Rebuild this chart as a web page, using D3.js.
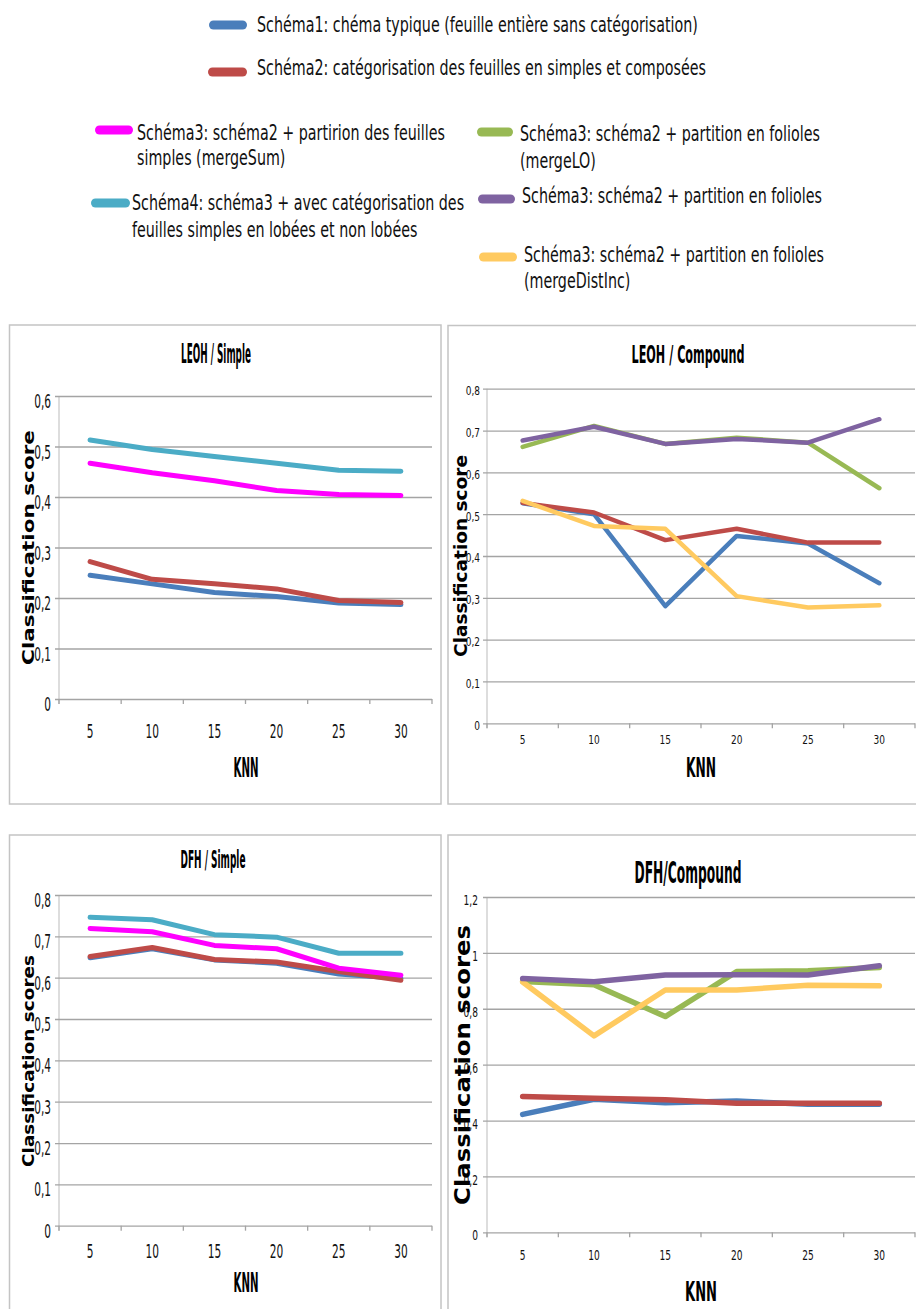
<!DOCTYPE html>
<html><head><meta charset="utf-8">
<script src="https://cdn.jsdelivr.net/npm/d3@7"></script>
<style>body{margin:0;background:#fff}svg{display:block}</style>
</head><body>
<svg id="c" width="916" height="1309"></svg>
<script>
// ---------------- DATA ----------------
const categories = ["5", "10", "15", "20", "25", "30"];

// LEOH / Simple
const leohSimple_schema1  = [0.245, 0.228, 0.211, 0.203, 0.190, 0.187];
const leohSimple_schema2  = [0.272, 0.237, 0.228, 0.218, 0.195, 0.191];
const leohSimple_mergeSum = [0.467, 0.448, 0.432, 0.413, 0.405, 0.403];
const leohSimple_schema4  = [0.513, 0.494, 0.480, 0.467, 0.453, 0.451];

// LEOH / Compound
const leohComp_schema1      = [0.526, 0.500, 0.280, 0.448, 0.430, 0.335];
const leohComp_schema2      = [0.527, 0.504, 0.438, 0.465, 0.432, 0.432];
const leohComp_mergeLO      = [0.661, 0.711, 0.668, 0.683, 0.671, 0.562];
const leohComp_merge        = [0.676, 0.709, 0.668, 0.680, 0.671, 0.727];
const leohComp_mergeDistInc = [0.532, 0.472, 0.465, 0.304, 0.277, 0.282];

// DFH / Simple
const dfhSimple_schema1  = [0.648, 0.670, 0.643, 0.635, 0.609, 0.598];
const dfhSimple_schema2  = [0.651, 0.673, 0.644, 0.638, 0.615, 0.594];
const dfhSimple_mergeSum = [0.719, 0.711, 0.678, 0.670, 0.623, 0.606];
const dfhSimple_schema4  = [0.746, 0.740, 0.704, 0.698, 0.659, 0.659];

// DFH / Compound
const dfhComp_schema1      = [0.422, 0.476, 0.464, 0.470, 0.458, 0.458];
const dfhComp_schema2      = [0.486, 0.480, 0.474, 0.462, 0.462, 0.462];
const dfhComp_mergeLO      = [0.898, 0.886, 0.772, 0.933, 0.936, 0.948];
const dfhComp_merge        = [0.908, 0.897, 0.921, 0.922, 0.921, 0.954];
const dfhComp_mergeDistInc = [0.896, 0.703, 0.867, 0.867, 0.884, 0.882];

// tick values
const yTicks06 = [0, 0.1, 0.2, 0.3, 0.4, 0.5, 0.6];
const yTicks08 = [0, 0.1, 0.2, 0.3, 0.4, 0.5, 0.6, 0.7, 0.8];
const yTicks12 = [0, 0.2, 0.4, 0.6, 0.8, 1, 1.2];

const panelTitles = ["LEOH / Simple", "LEOH  / Compound", "DFH / Simple", "DFH/Compound"];
const yTitles = ["Classification score", "Classification score", "Classification scores", "Classification scores"];
const xTitle = "KNN";

const legendKeys = ["schema1", "schema2", "mergeSum", "schema4", "mergeLO", "merge", "mergeDistInc"];
const legendLabels = [
  ["Schéma1: chéma typique (feuille entière sans catégorisation)"],
  ["Schéma2: catégorisation des feuilles en simples et composées"],
  ["Schéma3: schéma2 + partirion des feuilles", "simples (mergeSum)"],
  ["Schéma4: schéma3 + avec catégorisation des", "feuilles simples en lobées et non lobées"],
  ["Schéma3: schéma2 + partition en folioles", "(mergeLO)"],
  ["Schéma3: schéma2 + partition en folioles"],
  ["Schéma3: schéma2 + partition en folioles", "(mergeDistInc)"]
];

// ---------------- STYLE ----------------
const colors = {
  schema1: "#4a7ebb", schema2: "#be4b48", mergeSum: "#ff00ff", schema4: "#4bacc6",
  mergeLO: "#98b954", merge: "#7f63a1", mergeDistInc: "#ffca60"
};
const NARROW = "'Liberation Sans Narrow','Arial Narrow','DejaVu Sans Condensed',sans-serif";
const WIDE = "'DejaVu Sans','Verdana',sans-serif";
const COND = "'DejaVu Sans Condensed','DejaVu Sans',sans-serif";

const svg = d3.select("#c");
svg.append("rect").attr("width", 916).attr("height", 1309).attr("fill", "#fff");

function txt(g, x, y, s, o) {
  const t = g.append("text").text(s)
    .attr("font-family", o.family).attr("font-size", o.size)
    .attr("font-weight", o.weight || "normal")
    .attr("text-anchor", o.anchor || "start").attr("fill", o.fill || "#000");
  if (o.dy) t.attr("dy", o.dy);
  let sx = o.sx || 1;
  if (o.width) sx = o.width / t.node().getComputedTextLength();
  t.attr("transform", `translate(${x},${y}) rotate(${o.rot || 0}) scale(${sx},1)`);
  return { t, sx };
}

// ---------------- LEGEND ----------------
const legendLayout = [
  { sw: [209, 247, 25],  tx: 257, ty: [31.5] },
  { sw: [208, 247, 72],  tx: 257, ty: [75] },
  { sw: [95, 133, 130],  tx: 137, ty: [139.5, 165] },
  { sw: [91, 130, 203],  tx: 132, ty: [210, 236.5] },
  { sw: [477, 513, 132], tx: 520, ty: [141, 167.5] },
  { sw: [478, 515, 199], tx: 522, ty: [203] },
  { sw: [479, 517, 257], tx: 524, ty: [262, 288] }
];
const lg = svg.append("g");
const probe = txt(lg, 0, -100, legendLabels[0][0], { family: COND, size: 21, width: 441 });
const legendSx = probe.sx;
probe.t.remove();
legendKeys.forEach((k, i) => {
  const L = legendLayout[i];
  lg.append("rect").attr("x", L.sw[0]).attr("y", L.sw[2] - 4.5)
    .attr("width", L.sw[1] - L.sw[0]).attr("height", 9).attr("rx", 4.5)
    .attr("fill", colors[k]);
  legendLabels[i].forEach((s, j) => {
    txt(lg, L.tx, L.ty[j], s, { family: COND, size: 21, sx: legendSx, fill: "#111" });
  });
});

// ---------------- PANELS ----------------
const fmt = d3.formatLocale({ decimal: ",", thousands: " ", grouping: [3], currency: ["", ""] }).format("~g");

const panels = [
  {
    title: panelTitles[0], ytitle: yTitles[0], yMax: 0.6, yTicks: yTicks06,
    series: [["schema1", leohSimple_schema1], ["schema2", leohSimple_schema2], ["mergeSum", leohSimple_mergeSum], ["schema4", leohSimple_schema4]],
    box: [9.5, 325, 431.5, 479], l: 59, r: 432, t: 396, b: 699,
    tickSize: 19, tickSx: 0.62, yLabGap: 8, yLabDy: 5, xLabDy: 32,
    titleX: 216, titleY: 362.5, titleW: 70, titleSize: 26,
    ytX: 28, ytY: 547.5, ytLen: 235, ytSize: 15.5,
    knnX: 246, knnY: 777, knnW: 25, knnSize: 27, lw: 5
  },
  {
    title: panelTitles[1], ytitle: yTitles[1], yMax: 0.8, yTicks: yTicks08,
    series: [["schema1", leohComp_schema1], ["schema2", leohComp_schema2], ["mergeLO", leohComp_mergeLO], ["merge", leohComp_merge], ["mergeDistInc", leohComp_mergeDistInc]],
    box: [448, 325.5, 480, 478.5], l: 487, r: 915, t: 388.7, b: 723.3,
    tickSize: 12.5, tickSx: 0.8, yLabGap: 7, yLabDy: 2, xLabDy: 17,
    titleX: 688, titleY: 362.5, titleW: 113, titleSize: 25,
    ytX: 461, ytY: 556, ytLen: 202, ytSize: 17,
    knnX: 701, knnY: 777, knnW: 30, knnSize: 27, lw: 4.5
  },
  {
    title: panelTitles[2], ytitle: yTitles[2], yMax: 0.8, yTicks: yTicks08,
    series: [["schema1", dfhSimple_schema1], ["schema2", dfhSimple_schema2], ["mergeSum", dfhSimple_mergeSum], ["schema4", dfhSimple_schema4]],
    box: [9.5, 835, 431.5, 500], l: 59, r: 432, t: 895, b: 1225.7,
    tickSize: 19, tickSx: 0.62, yLabGap: 8, yLabDy: 5, xLabDy: 26,
    titleX: 213, titleY: 868, titleW: 65, titleSize: 24,
    ytX: 28, ytY: 1061, ytLen: 212, ytSize: 15.5,
    knnX: 246, knnY: 1292, knnW: 25, knnSize: 26, lw: 5
  },
  {
    title: panelTitles[3], ytitle: yTitles[3], yMax: 1.2, yTicks: yTicks12,
    series: [["schema1", dfhComp_schema1], ["schema2", dfhComp_schema2], ["mergeLO", dfhComp_mergeLO], ["mergeDistInc", dfhComp_mergeDistInc], ["merge", dfhComp_merge]],
    box: [448, 835, 480, 500], l: 487, r: 915, t: 897, b: 1232.3,
    tickSize: 14, tickSx: 0.72, yLabGap: 9, yLabDy: 3, xLabDy: 23,
    titleX: 688, titleY: 883, titleW: 107, titleSize: 30,
    ytX: 462, ytY: 1065, ytLen: 280, ytSize: 21,
    knnX: 701, knnY: 1301, knnW: 32, knnSize: 27, lw: 5.5
  }
];

panels.forEach(p => {
  const g = svg.append("g");
  g.append("rect").attr("x", p.box[0]).attr("y", p.box[1])
    .attr("width", p.box[2]).attr("height", p.box[3])
    .attr("fill", "#fff").attr("stroke", "#c4c4c4").attr("stroke-width", 1.5);

  const x = d3.scaleBand().domain(categories).range([p.l, p.r]).padding(0);
  const y = d3.scaleLinear().domain([0, p.yMax]).range([p.b, p.t]);

  g.append("line").attr("x1", p.l).attr("x2", p.l)
    .attr("y1", y(p.yMax)).attr("y2", y(0) + 5)
    .attr("stroke", "#d2d2d2").attr("stroke-width", 1.5);

  const grid = g.append("g").attr("transform", `translate(${p.l},0)`)
    .call(d3.axisLeft(y).tickValues(p.yTicks).tickSize(-(p.r - p.l)).tickFormat(""));
  grid.select(".domain").remove();
  grid.selectAll(".tick line").attr("x1", -4).attr("stroke", "#a4a4a4").attr("stroke-width", 1.3);

  const bounds = categories.map(c => x(c)).concat([x.range()[1]]);
  g.selectAll(null).data(bounds).enter().append("line")
    .attr("x1", d => d).attr("x2", d => d)
    .attr("y1", y(0)).attr("y2", y(0) + 5)
    .attr("stroke", "#a4a4a4").attr("stroke-width", 1.3);

  const ya = g.append("g").attr("transform", `translate(${p.l},0)`)
    .call(d3.axisLeft(y).tickValues(p.yTicks).tickSize(0).tickPadding(0).tickFormat(fmt))
    .attr("font-family", NARROW).attr("font-size", p.tickSize);
  ya.select(".domain").remove();
  ya.selectAll(".tick text").attr("x", null).attr("dy", null).attr("fill", "#111")
    .attr("dominant-baseline", "central").attr("text-anchor", "end")
    .attr("transform", `translate(${-p.yLabGap},${p.yLabDy}) scale(${p.tickSx},1)`);

  const xa = g.append("g").attr("transform", `translate(0,${p.b})`)
    .call(d3.axisBottom(x).tickSize(0).tickPadding(0))
    .attr("font-family", NARROW).attr("font-size", p.tickSize);
  xa.select(".domain").remove();
  xa.selectAll(".tick text").attr("y", null).attr("dy", null).attr("fill", "#111")
    .attr("dominant-baseline", "central")
    .attr("transform", `translate(0,${p.xLabDy}) scale(${p.tickSx},1)`);

  const line = d3.line()
    .x((d, i) => x(categories[i]) + x.bandwidth() / 2)
    .y(d => y(d));
  p.series.forEach(([k, vals]) => {
    g.append("path").datum(vals).attr("d", line)
      .attr("fill", "none").attr("stroke", colors[k]).attr("stroke-width", p.lw)
      .attr("stroke-linejoin", "round").attr("stroke-linecap", "round");
  });

  txt(g, p.titleX, p.titleY, p.title, { family: NARROW, size: p.titleSize, weight: "bold", anchor: "middle", width: p.titleW });
  txt(g, p.knnX, p.knnY, xTitle, { family: NARROW, size: p.knnSize, weight: "bold", anchor: "middle", width: p.knnW });
  txt(g, p.ytX, p.ytY, p.ytitle, { family: WIDE, size: p.ytSize, weight: "bold", anchor: "middle", rot: -90, dy: "0.36em", width: p.ytLen });
});
</script>
</body></html>
